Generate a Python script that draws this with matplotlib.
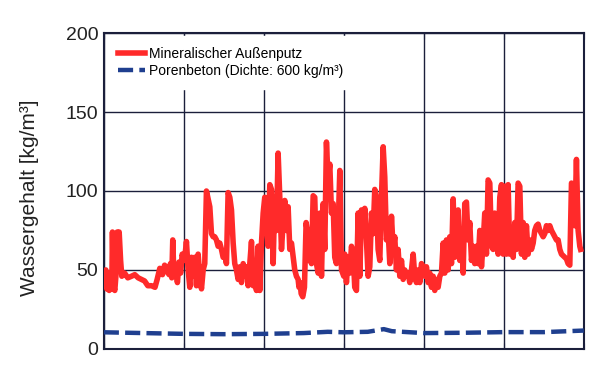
import matplotlib
matplotlib.use("Agg")
import matplotlib.pyplot as plt

plt.rcParams["font.family"] = ["Liberation Sans", "DejaVu Sans"]

# Zeitachse in Intervallen (6 Rasterfelder)
zeit_putz = [
    0.0, 0.0125, 0.025, 0.0375, 0.054, 0.067, 0.083, 0.1, 0.108, 0.12, 0.1375, 0.154, 0.167, 0.18, 0.192,
    0.21, 0.225, 0.26, 0.30, 0.346, 0.387, 0.43, 0.47, 0.51, 0.55, 0.596, 0.64, 0.667, 0.7, 0.733, 0.76,
    0.79, 0.817, 0.833, 0.85, 0.862, 0.875, 0.9, 0.92, 0.94, 0.96, 0.98,
    1.0, 1.0125, 1.033, 1.054, 1.075, 1.096, 1.117, 1.137, 1.158, 1.179, 1.2, 1.221, 1.242, 1.262, 1.283,
    1.30, 1.325, 1.346, 1.367, 1.387, 1.408, 1.429, 1.45, 1.471, 1.492, 1.512, 1.533, 1.554, 1.575, 1.596,
    1.617, 1.637, 1.658, 1.679, 1.70, 1.721, 1.742, 1.762, 1.783, 1.804, 1.825, 1.846, 1.867, 1.887,
    1.908, 1.929, 1.95, 1.971, 1.992,
    2.012, 2.033, 2.054, 2.075, 2.096, 2.117, 2.137, 2.158, 2.179, 2.2, 2.221, 2.242, 2.262, 2.283, 2.304,
    2.325, 2.346, 2.367, 2.387, 2.408, 2.429, 2.44, 2.454, 2.467, 2.487, 2.508, 2.529, 2.542, 2.558, 2.575,
    2.596, 2.617, 2.637, 2.658, 2.679, 2.70, 2.721, 2.742, 2.762, 2.783, 2.804, 2.825, 2.846, 2.867,
    2.887, 2.908, 2.929, 2.95, 2.971,
    3.0, 3.012, 3.033, 3.054, 3.075, 3.096, 3.117, 3.137, 3.158, 3.179, 3.2, 3.221, 3.242, 3.262, 3.283,
    3.304, 3.325, 3.346, 3.367, 3.387, 3.408, 3.429, 3.45, 3.471, 3.492, 3.512, 3.533, 3.554, 3.575,
    3.596, 3.617, 3.637, 3.658, 3.679, 3.70, 3.721, 3.742, 3.762, 3.783, 3.804, 3.825, 3.846, 3.867,
    3.887, 3.908, 3.929, 3.95, 3.971, 3.992,
    4.012, 4.033, 4.054, 4.075, 4.096, 4.117, 4.137, 4.158, 4.179, 4.2, 4.221, 4.242, 4.262, 4.283,
    4.304, 4.325, 4.346, 4.367, 4.387, 4.408, 4.429, 4.45, 4.471, 4.492, 4.512, 4.533, 4.554, 4.575,
    4.596, 4.617, 4.637, 4.658, 4.679, 4.70, 4.721, 4.742, 4.762, 4.783, 4.804, 4.825, 4.846, 4.867,
    4.887, 4.908, 4.929, 4.95, 4.971, 4.992,
    5.012, 5.033, 5.054, 5.075, 5.096, 5.117, 5.137, 5.158, 5.179, 5.2, 5.221, 5.242, 5.262, 5.283,
    5.304, 5.325, 5.346, 5.367, 5.387, 5.408, 5.429, 5.45, 5.471, 5.492, 5.512, 5.533, 5.554, 5.575,
    5.596, 5.617, 5.637, 5.658, 5.679, 5.70, 5.721, 5.742, 5.762, 5.783, 5.804, 5.825, 5.846, 5.867,
    5.887, 5.908, 5.929, 5.95, 5.96,
]
wasser_putz = [
    47, 40, 50, 38, 48, 37, 45, 38, 74, 40, 37, 48, 74, 55, 74,
    56, 46, 48, 45, 46, 47, 45, 44, 43, 40, 40, 39, 44, 51, 47, 53,
    49, 47, 54, 45, 69, 48, 52, 42, 55, 48, 60,
    56, 58, 68, 50, 39, 58, 46, 58, 40, 60, 46, 38, 50, 54, 100,
    96, 90, 73, 71, 71, 69, 65, 67, 63, 58, 60, 54, 99, 96, 88,
    67, 54, 50, 44, 52, 42, 54, 46, 52, 40, 54, 68, 40, 48,
    37, 65, 37, 67, 86,
    96, 82, 65, 104, 101, 54, 96, 75, 124, 96, 63, 80, 94, 75, 90,
    63, 67, 58, 50, 46, 44, 39, 42, 35, 33, 39, 80, 75, 56, 75,
    54, 97, 96, 54, 48, 86, 46, 92, 63, 131, 107, 117, 86, 92,
    58, 54, 75, 113, 50,
    46, 60, 42, 58, 48, 65, 60, 39, 37, 86, 46, 88, 73, 89, 69,
    46, 52, 86, 73, 101, 96, 63, 56, 96, 128, 109, 69, 75, 54,
    84, 63, 71, 50, 63, 46, 56, 44, 50, 46, 48, 42, 50, 60,
    46, 42, 50, 42, 54, 52,
    46, 52, 42, 48, 39, 46, 37, 44, 39, 46, 48, 67, 48, 69,
    50, 71, 54, 95, 58, 75, 88, 56, 75, 48, 92, 93, 69, 80,
    56, 65, 54, 65, 54, 75, 52, 67, 86, 60, 107, 105, 65, 63,
    86, 69, 60, 96, 104, 60,
    103, 60, 104, 60, 75, 58, 80, 63, 105, 103, 60, 80, 58, 78,
    60, 69, 63, 67, 75, 78, 79, 75, 73, 71, 73, 78, 75, 78,
    75, 73, 71, 69, 69, 63, 60, 59, 58, 57, 54, 53, 105, 103,
    78, 120, 75, 65, 63,
]

zeit_beton = [0.0, 0.5, 1.0, 1.5, 2.0, 2.5, 2.8, 3.0, 3.3, 3.5, 3.6, 4.0, 4.5, 5.0, 5.5, 6.0]
wasser_beton = [10.5, 10.0, 9.5, 9.3, 9.5, 10.0, 10.8, 10.5, 10.8, 12.5, 11.2, 10.0, 10.2, 10.6, 10.6, 11.6]

rasterfarbe = "#1b1f3b"

fig = plt.figure(figsize=(6.0, 3.68), dpi=100)
ax = fig.add_axes([0.173, 0.052, 0.80, 0.858])

ax.plot(zeit_putz, wasser_putz, color="#ff2a2a", lw=4.0,
        label="Mineralischer Außenputz", zorder=3)
ax.plot(zeit_beton, wasser_beton, color="#1f3f8f", lw=3.2, ls=(0, (3.4, 1.4)),
        label="Porenbeton (Dichte: 600 kg/m³)", zorder=3)

ax.set_xlim(0, 6)
ax.set_ylim(0, 200)
ax.set_yticks([0, 50, 100, 150, 200])
ax.set_xticks([0, 1, 2, 3, 4, 5, 6])
ax.set_xticklabels([])
ax.grid(True, color=rasterfarbe, lw=1.0)
ax.tick_params(axis="x", direction="in", length=4, top=True, color=rasterfarbe)
ax.tick_params(axis="y", length=0, labelsize=14, pad=4, colors="#222222")
for s in ax.spines.values():
    s.set_color(rasterfarbe)
    s.set_linewidth(1.5)

ax.set_ylabel("Wassergehalt [kg/m³]", fontsize=15, color="#222222")
ax.yaxis.set_label_coords(-0.135, 0.48)

leg = ax.legend(loc="upper left", bbox_to_anchor=(0.0, 1.0), fontsize=10, frameon=True,
                handlelength=2.0, handletextpad=0.25, borderpad=0.8, labelspacing=0.22,
                fancybox=False, borderaxespad=0.2)
leg.get_frame().set_facecolor("white")
leg.get_frame().set_edgecolor("white")
leg.get_frame().set_alpha(1.0)
leg.set_zorder(5)

fig.savefig("out.png", dpi=100)
